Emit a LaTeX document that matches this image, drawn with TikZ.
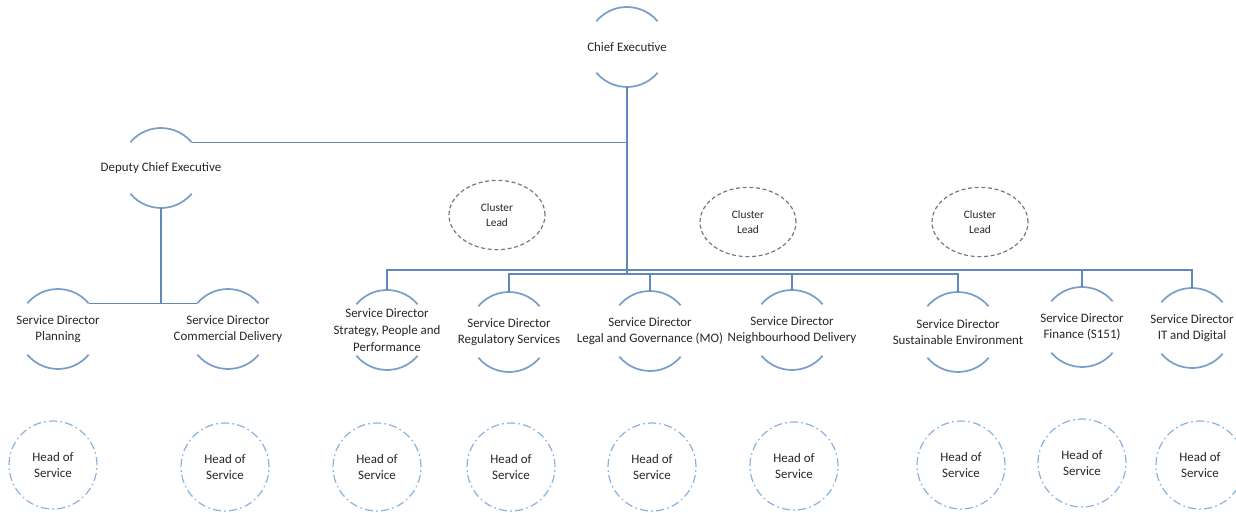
\documentclass[tikz,border=0pt]{standalone}
\usepackage{fontspec}
\setmainfont{Carlito}
\usetikzlibrary{shapes.geometric}
\definecolor{linkblue}{RGB}{98,136,186}
\definecolor{rimblue}{RGB}{122,158,202}
\definecolor{headblue}{RGB}{140,178,218}
\definecolor{leadgrey}{RGB}{112,122,138}
\definecolor{txtgrey}{RGB}{38,38,38}
\begin{document}
\begin{tikzpicture}[x=0.75pt,y=-0.75pt]
	\tikzset{txt/.style={align=center, text=txtgrey, font=\fontsize{9.7}{12.5}\selectfont, inner sep=0pt}}
	\tikzset{ring/.style={circle, minimum size=60pt, inner sep=0pt, outer sep=0pt, label={[txt]center:{#1}}}}
	\tikzset{rim/.style={draw=rimblue, line width=1.3pt}}
	\tikzset{link/.style={draw=linkblue, line width=1pt}}
	\tikzset{head/.style={circle, txt, draw=headblue, line width=0.9pt, dash pattern=on 6pt off 2.5pt on 1.2pt off 2.5pt, minimum size=66pt}}
	\tikzset{lead/.style={ellipse, txt, draw=leadgrey, line width=0.9pt, dash pattern=on 3pt off 2pt, minimum width=72pt, minimum height=52pt, font=\fontsize{8.5}{11.5}\selectfont}}

	\useasboundingbox (0,0) rectangle (1236,513);

	\node[ring={Chief Executive}] (ce) at (627,47) {};
	\node[ring={Deputy Chief Executive}] (dce) at (161,168) {};

	\node[ring={Service Director\\Planning}] (plan) at (58,329) {};
	\node[ring={Service Director\\Commercial Delivery}] (comm) at (228,329) {};
	\node[ring={Service Director\\Strategy, People and\\Performance}] (strat) at (387,330) {};
	\node[ring={Service Director\\Regulatory Services}] (reg) at (509,332) {};
	\node[ring={Service Director\\Legal and Governance (MO)}] (legal) at (650,331) {};
	\node[ring={Service Director\\Neighbourhood Delivery}] (neigh) at (792,330) {};
	\node[ring={Service Director\\Sustainable Environment}] (sust) at (958,332) {};
	\node[ring={Service Director\\Finance (S151)}] (fin) at (1082,327) {};
	\node[ring={Service Director\\IT and Digital}] (it) at (1192,328) {};

	\node[lead] (cl1) at (497,215) {Cluster\\Lead};
	\node[lead] (cl2) at (748,222) {Cluster\\Lead};
	\node[lead] (cl3) at (980,222) {Cluster\\Lead};

	\node[head] (h1) at (53,465) {Head of\\Service};
	\node[head] (h2) at (225,467) {Head of\\Service};
	\node[head] (h3) at (377,467) {Head of\\Service};
	\node[head] (h4) at (511,467) {Head of\\Service};
	\node[head] (h5) at (652,467) {Head of\\Service};
	\node[head] (h6) at (794,466) {Head of\\Service};
	\node[head] (h7) at (961,465) {Head of\\Service};
	\node[head] (h8) at (1082,463) {Head of\\Service};
	\node[head] (h9) at (1200,465) {Head of\\Service};

	\foreach \n in {ce,dce,plan,comm,strat,reg,legal,neigh,sust,fin,it} {
		\draw[rim] (\n.40) arc[start angle=40, end angle=140, radius=30pt];
		\draw[rim] (\n.220) arc[start angle=220, end angle=320, radius=30pt];
	}

	\coordinate (busA) at (627,270);
	\coordinate (busB) at (627,274);

	\draw[link] (ce.south) |- (dce.40);

	\draw[link] (dce.south) |- (plan.40);
	\draw[link] (dce.south) |- (comm.140);

	\draw[link] (ce.south) |- (strat |- busA) -- (strat.north);
	\draw[link] (ce.south) |- (reg |- busB) -- (reg.north);
	\draw[link] (ce.south) |- (legal |- busB) -- (legal.north);
	\draw[link] (ce.south) |- (neigh |- busB) -- (neigh.north);
	\draw[link] (ce.south) |- (sust |- busB) -- (sust.north);
	\draw[link] (ce.south) |- (fin |- busA) -- (fin.north);
	\draw[link] (ce.south) |- (it |- busA) -- (it.north);

\end{tikzpicture}
\end{document}
